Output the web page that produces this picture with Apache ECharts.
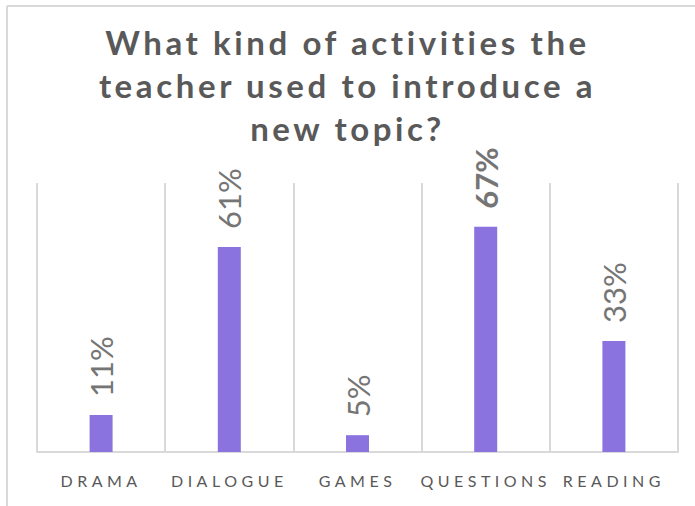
<!DOCTYPE html>
<html>
<head>
<meta charset="utf-8">
<script src="https://cdn.jsdelivr.net/npm/echarts@6/dist/echarts.min.js"></script>
<style>
  html, body { margin: 0; padding: 0; background: #ffffff; }
  #chart { width: 695px; height: 506px; }
</style>
</head>
<body>
<div id="chart"></div>
<script>
const titleText = 'What kind of activities the\nteacher used to introduce a\nnew topic?';
const categories = ['DRAMA', 'DIALOGUE', 'GAMES', 'QUESTIONS', 'READING'];
const values = [11, 61, 5, 67, 33];
const boldIndex = 3;

const TITLE_SIZE = 33;
const XLABEL_SIZE = 16;
const VALUE_SIZE = 31;

const chart = echarts.init(document.getElementById('chart'), null, { renderer: 'svg' });

const option = {
  animation: false,
  backgroundColor: '#ffffff',
  title: {
    text: titleText,
    left: 'center',
    top: 20,
    padding: 0,
    textStyle: {
      fontFamily: 'Lato',
      fontSize: TITLE_SIZE,
      fontWeight: 'bold',
      color: '#595959',
      lineHeight: 43
    }
  },
  grid: { left: 37, right: 17, top: 183, bottom: 54 },
  xAxis: {
    type: 'category',
    data: categories,
    boundaryGap: true,
    axisLine: { show: true, lineStyle: { color: '#d9d9d9', width: 2 } },
    axisTick: { show: false },
    splitLine: { show: true, lineStyle: { color: '#d9d9d9', width: 2 } },
    axisLabel: {
      fontFamily: 'Lato',
      fontSize: XLABEL_SIZE,
      color: '#595959',
      margin: 20
    }
  },
  yAxis: {
    type: 'value',
    min: 0,
    max: 80,
    show: false,
    splitLine: { show: false }
  },
  series: [{
    type: 'bar',
    barWidth: 23,
    data: values.map((v, i) => i === boldIndex ? { value: v, label: { fontWeight: 'bold' } } : v),
    itemStyle: { color: '#8a72df' },
    label: {
      show: true,
      position: 'top',
      rotate: 90,
      align: 'left',
      verticalAlign: 'middle',
      distance: 18,
      formatter: '{c}%',
      fontFamily: 'Lato',
      fontSize: VALUE_SIZE,
      color: '#757575'
    }
  }],
  graphic: [
    { type: 'line', shape: { x1: 7, y1: 6, x2: 695, y2: 6 }, style: { stroke: '#d9d9d9', lineWidth: 2 }, silent: true },
    { type: 'line', shape: { x1: 7, y1: 6, x2: 7, y2: 506 }, style: { stroke: '#d9d9d9', lineWidth: 2 }, silent: true }
  ]
};

chart.setOption(option);

function applySpacing() {
  const texts = document.querySelectorAll('#chart svg text');
  texts.forEach(function (el) {
    const fs = parseFloat(getComputedStyle(el).fontSize);
    if (fs === TITLE_SIZE) el.style.letterSpacing = '3.6px';
    else if (fs === XLABEL_SIZE) el.style.letterSpacing = '4.5px';
  });
}
applySpacing();
chart.on('finished', applySpacing);
</script>
</body>
</html>
